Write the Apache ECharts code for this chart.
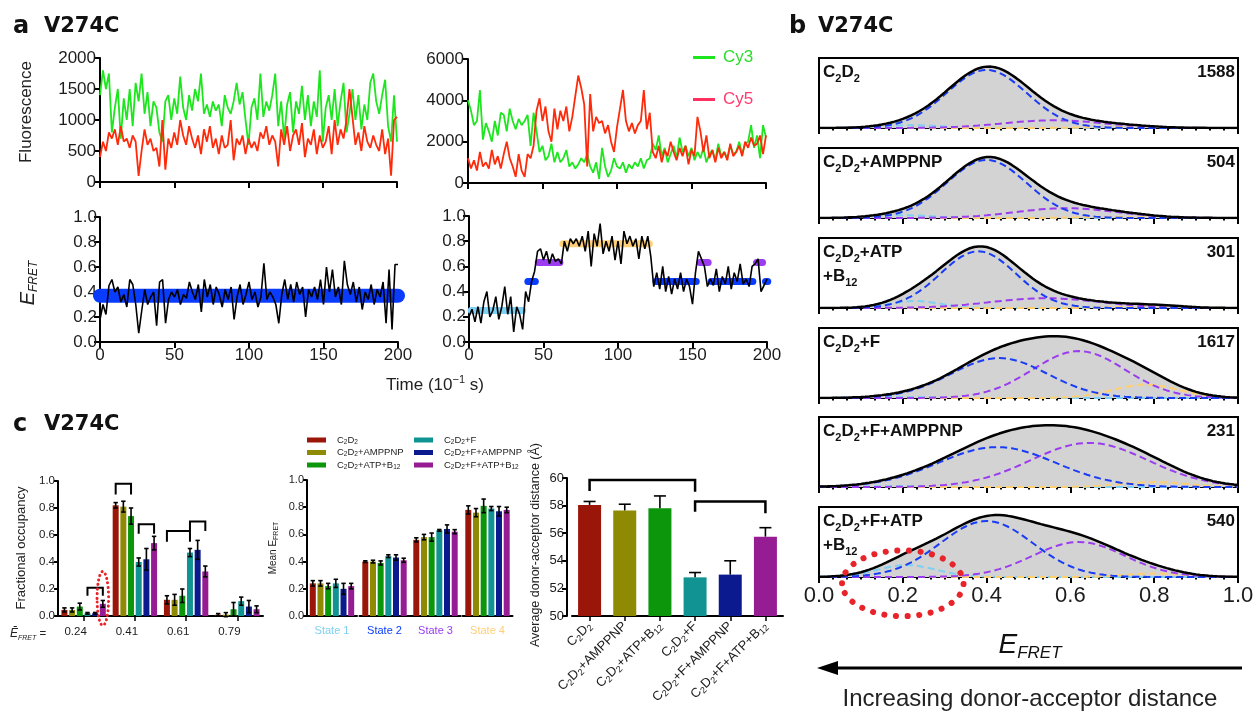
<!DOCTYPE html>
<html>
<head>
<meta charset="utf-8">
<title>V274C smFRET</title>
<script src="https://cdn.jsdelivr.net/npm/echarts@6.0.0/dist/echarts.min.js"></script>
<style>
html,body{margin:0;padding:0;background:#fff;}
#chart{width:1255px;height:711px;}
</style>
</head>
<body>
<div id="chart"></div>
<script>
// ===================== DATA =====================
// Panel a: time traces, one sample every 2 frames (10^-1 s), t = 0..200
const timeStep = 2;
const timeTicks = [0, 50, 100, 150, 200];

const cy3Left = [
 1400,1800,1500,1750,800,1200,1500,700,1350,1000,
 1500,900,1600,1300,1750,1100,1450,900,1300,1200,
 800,650,1300,1400,1000,1350,1100,1700,1200,1000,
 1400,1150,1500,1300,1750,1100,1250,1050,1300,1150,
 1250,900,1400,1200,1100,1300,1600,1250,1450,1000,
 600,1200,1350,1000,1750,1050,1300,1150,1400,1750,
 900,1300,700,1250,1450,800,1300,1100,1550,1000,
 1400,900,1300,1050,1800,650,1200,1400,1000,1500,
 900,1300,1600,800,1100,1500,1000,1400,850,1250,
 1000,1600,1750,1300,1100,1400,1650,900,650,1400,
 650];
const cy5Left = [
 400,650,500,800,700,850,600,900,650,700,
 550,750,650,100,500,850,600,700,500,550,
 250,1000,200,700,550,800,600,1000,750,600,
 900,700,550,750,450,850,650,900,550,700,
 450,750,550,600,1000,350,700,600,750,450,
 700,550,650,500,800,700,900,600,750,650,
 250,850,600,900,500,750,850,600,950,400,
 700,600,850,450,750,550,650,900,450,1000,
 600,850,700,1000,1500,1050,600,800,500,900,
 650,550,750,600,500,850,450,700,100,1000,
 1050];
const fretLeft = [
 0.18,0.30,0.22,0.45,0.50,0.40,0.44,0.32,0.38,0.28,
 0.50,0.46,0.30,0.07,0.25,0.42,0.30,0.36,0.40,0.13,
 0.48,0.50,0.15,0.34,0.40,0.36,0.42,0.30,0.38,0.35,
 0.48,0.40,0.34,0.46,0.24,0.50,0.36,0.46,0.30,0.44,
 0.38,0.28,0.42,0.34,0.44,0.18,0.36,0.46,0.30,0.38,
 0.48,0.34,0.40,0.28,0.36,0.63,0.34,0.40,0.36,0.30,
 0.15,0.38,0.50,0.34,0.46,0.32,0.48,0.38,0.44,0.20,
 0.42,0.36,0.44,0.34,0.50,0.30,0.60,0.40,0.58,0.36,
 0.44,0.30,0.65,0.46,0.38,0.48,0.32,0.44,0.26,0.40,
 0.34,0.46,0.30,0.42,0.36,0.48,0.15,0.58,0.10,0.62,
 0.62];
const cy3Right = [
 4000,3500,2800,3000,4500,2100,2900,2500,2000,3000,
 2300,3400,3300,2500,3600,3000,2600,3100,2800,3000,
 3300,1800,3400,2500,1500,1800,1100,1300,1900,1000,
 1500,1000,1200,1600,800,1000,700,900,1200,1000,
 1400,800,500,1000,200,1700,800,300,600,1200,
 800,700,1000,500,900,700,1000,800,1200,700,
 1100,1200,1900,1600,2300,1300,1700,1000,1400,1800,
 1200,2200,1500,1800,1300,1700,1100,1500,1200,1700,
 1000,1400,1600,1100,1900,1300,1500,1200,1800,1400,
 1500,2000,1400,1900,2000,2800,1700,2300,1200,2800,
 2200];
const cy5Right = [
 1200,700,1100,600,1500,800,1000,700,1600,900,
 1300,700,1400,2000,1200,800,300,1400,600,300,
 1400,1200,1800,3500,4100,3000,3700,2500,2000,3600,
 2600,3500,3000,3700,2500,3200,4200,5200,4600,3800,
 800,4300,2500,3200,2900,3000,2400,2800,2000,1500,
 2700,3600,4500,3000,2500,2900,2400,2800,3000,4500,
 2600,3400,1500,1200,1800,1000,1600,1300,2000,1500,
 1100,1700,1300,1800,900,1600,1300,3200,2500,1500,
 2300,1200,1600,1000,1700,1200,1500,1100,1900,1300,
 1500,1800,1300,2000,1700,2200,1800,1900,2300,1400,
 2300];
const fretRight = [
 0.20,0.26,0.16,0.28,0.15,0.32,0.40,0.20,0.25,0.36,
 0.18,0.28,0.44,0.22,0.36,0.08,0.28,0.22,0.10,0.40,
 0.32,0.48,0.56,0.72,0.74,0.65,0.72,0.62,0.70,0.64,
 0.66,0.62,0.80,0.72,0.82,0.78,0.82,0.76,0.84,0.72,
 0.88,0.60,0.86,0.76,0.94,0.70,0.80,0.72,0.84,0.65,
 0.80,0.62,0.88,0.78,0.84,0.76,0.82,0.66,0.84,0.74,
 0.84,0.68,0.44,0.55,0.42,0.60,0.40,0.52,0.38,0.50,
 0.42,0.55,0.40,0.50,0.44,0.30,0.55,0.72,0.66,0.60,
 0.44,0.50,0.45,0.58,0.40,0.52,0.46,0.60,0.42,0.55,
 0.48,0.62,0.46,0.50,0.44,0.60,0.62,0.66,0.40,0.45,
 0.50];
// HMM state fits: [tStart, tEnd, E_FRET, state number]
const fitLeft = [[0, 200, 0.37, 2]];
const fitRight = [
 [1.5,36,0.25,1],[39.5,44.5,0.48,2],[46.5,61,0.63,3],[63,121,0.78,4],
 [123.5,123.5,0.63,3],[125.5,152.5,0.48,2],[155,160.5,0.63,3],
 [162.5,190.5,0.48,2],[193,197,0.63,3],[199,200.5,0.48,2]];

// Panel b: E_FRET histograms, Gaussian fit components [mean, sd, amplitude (fraction of panel)]
const histLabelLines = [['C2D2'],['C2D2+AMPPNP'],['C2D2+ATP','+B12'],['C2D2+F'],['C2D2+F+AMPPNP'],['C2D2+F+ATP','+B12']];
const histCounts = [1588, 504, 301, 1617, 231, 540];
const fitState1 = [[0.22,0.07,0.04],[0.20,0.07,0.04],[0.23,0.06,0.10],[0.20,0.07,0.015],[0.20,0.07,0.015],[0.21,0.07,0.17]];
const fitState2 = [[0.40,0.095,0.83],[0.40,0.095,0.83],[0.38,0.09,0.81],[0.43,0.115,0.57],[0.425,0.14,0.57],[0.40,0.11,0.80]];
const fitState3 = [[0.56,0.12,0.11],[0.59,0.12,0.14],[0.54,0.13,0.14],[0.62,0.11,0.67],[0.645,0.14,0.63],[0.62,0.11,0.50]];
const fitState4 = [[0.72,0.08,0.015],[0.70,0.08,0.015],[0.80,0.07,0.03],[0.78,0.08,0.19],[0.80,0.08,0.07],[0.80,0.07,0.05]];
const eTicks = [0.0, 0.2, 0.4, 0.6, 0.8, 1.0];
// highlighted region in last histogram: [E centre, y centre, E half-width, y half-height]
const histHighlight = [[0.20, -0.09, 0.145, 0.47]];

// Panel c
const conditions = ['C2D2','C2D2+AMPPNP','C2D2+ATP+B12','C2D2+F','C2D2+F+AMPPNP','C2D2+F+ATP+B12'];
const occLabels = ['0.24','0.41','0.61','0.79'];
const occValues = [
 [0.045,0.82,0.12,0.01],
 [0.045,0.81,0.12,0.01],
 [0.07,0.74,0.15,0.05],
 [0.02,0.40,0.47,0.11],
 [0.02,0.42,0.49,0.07],
 [0.09,0.54,0.33,0.05]];
const occErr = [
 [0.015,0.02,0.03,0.008],
 [0.015,0.04,0.04,0.015],
 [0.025,0.06,0.05,0.05],
 [0.006,0.03,0.03,0.03],
 [0.006,0.08,0.07,0.045],
 [0.025,0.05,0.04,0.025]];
// brackets: [group, first bar, last bar, top y, leg end y]
const occBrackets = [[0,3,5,0.21,0.15],[1,0,2,0.98,0.90],[1,3,5,0.68,0.61],[2,0,3,0.63,0.55],[2,3,5,0.70,0.63]];
// highlighted bar: [group, bar, y low, y high]
const occHighlight = [[0,5,-0.07,0.33]];
const stateLabels = ['State 1','State 2','State 3','State 4'];
const meanE = [
 [0.24,0.40,0.56,0.78],
 [0.24,0.40,0.58,0.76],
 [0.22,0.39,0.58,0.81],
 [0.24,0.44,0.63,0.79],
 [0.20,0.43,0.64,0.77],
 [0.22,0.41,0.62,0.78]];
const meanErr = [
 [0.02,0.006,0.015,0.03],
 [0.02,0.01,0.02,0.03],
 [0.02,0.015,0.03,0.05],
 [0.03,0.01,0.006,0.015],
 [0.04,0.02,0.03,0.035],
 [0.02,0.015,0.015,0.02]];
const distValues = [58.05, 57.65, 57.8, 52.8, 53.0, 55.75];
const distErr = [0.25, 0.45, 0.9, 0.35, 1.0, 0.65];
// brackets: [bar a, bar b, top y, leg end y at a, leg end y at b]
const distBrackets = [[0,3,59.85,59.05,59.0],[3,5,58.3,57.55,57.45]];

// ===================== STYLE =====================
const FONT = '"Liberation Sans", Arial, sans-serif';
const HFONT = '"DejaVu Sans", Verdana, sans-serif';
const INK = '#1c1c1c';
const CY3 = '#1ee61e', CY5 = '#ff2a0a';
const condColors = ['#9a1608','#8e8a04','#0b960b','#119393','#0b1a8e','#961c94'];
const stateColors = ['#7fd0f2','#0a3cff','#9b3cf0','#ffd079'];
const compColors = ['#7fd0f2','#1a3cf5','#9a3cf0','#ffcf70'];
const BW = 6, GAP = 0.28;           // bar width / gap ratio in panel c
const PITCH = BW * (1 + GAP);

function richName(name){ return '{n|' + name.replace(/(\d+)/g, '}{s|$1}{n|') + '}'; }
function subRichAxis(size, sub, extra){
  extra = extra || {};
  return {
    n: Object.assign({fontSize:size, lineHeight:Math.round(size*1.2), verticalAlign:'middle'}, extra),
    s: Object.assign({fontSize:sub, lineHeight:sub, verticalAlign:'bottom'}, extra)
  };
}
const plain = v => String(v);

const grids = [], xAxes = [], yAxes = [], series = [], graphics = [];
function addGrid(l, t, w, h, extra){
  grids.push(Object.assign({left:l, top:t, width:w, height:h, outerBoundsMode:'none', containLabel:false}, extra || {}));
  return grids.length - 1;
}
function lineAx(){ return {show:true, onZero:false, lineStyle:{color:'#000', width:2}}; }
function tickAx(len){ return {show:true, length:len || 6, lineStyle:{color:'#000', width:2}}; }

// ===================== PANEL a =====================
const gA1 = addGrid(100, 58, 297, 124);
const gA2 = addGrid(468, 59, 298, 124);
const gA3 = addGrid(100, 217, 298, 125);
const gA4 = addGrid(469, 216, 298, 126);
[gA1, gA2, gA3, gA4].forEach((g, i) => {
  const bottom = i >= 2;
  xAxes.push({type:'value', gridIndex:g, min:timeTicks[0], max:timeTicks[timeTicks.length-1], interval:50,
    axisLine:lineAx(), axisTick:tickAx(6), splitLine:{show:false},
    axisLabel:{show:bottom, color:INK, fontFamily:FONT, fontSize:17, margin:5, showMinLabel:true, showMaxLabel:true, formatter:plain}});
});
yAxes.push({type:'value', gridIndex:gA1, min:0, max:2000, interval:500, axisLine:lineAx(), axisTick:tickAx(6), splitLine:{show:false},
  axisLabel:{color:INK, fontFamily:FONT, fontSize:17, margin:4, formatter:plain}});
yAxes.push({type:'value', gridIndex:gA2, min:0, max:6000, interval:2000, axisLine:lineAx(), axisTick:tickAx(6), splitLine:{show:false},
  axisLabel:{color:INK, fontFamily:FONT, fontSize:17, margin:4, formatter:plain}});
[gA3, gA4].forEach(g => yAxes.push({type:'value', gridIndex:g, min:0, max:1, interval:0.2, axisLine:lineAx(), axisTick:tickAx(6), splitLine:{show:false},
  axisLabel:{color:INK, fontFamily:FONT, fontSize:17, margin:3, formatter:v => v.toFixed(1)}}));

function pairs(arr){ return arr.map((v, i) => [i * timeStep, v]); }
function traceSeries(name, g, arr, color, w, z){
  return {type:'line', name:name, xAxisIndex:g, yAxisIndex:g, data:pairs(arr), symbol:'none', showSymbol:false,
    lineStyle:{color:color, width:w}, itemStyle:{color:color}, z:z, silent:true};
}
series.push(traceSeries('Cy3', gA1, cy3Left, CY3, 1.8, 2));
series.push(traceSeries('Cy5', gA1, cy5Left, CY5, 1.8, 3));
series.push(traceSeries('Cy3', gA2, cy3Right, CY3, 1.8, 2));
series.push(traceSeries('Cy5', gA2, cy5Right, CY5, 1.8, 3));
function fitRender(width){
  return function(params, api){
    const p1 = api.coord([api.value(0), api.value(2)]);
    const p2 = api.coord([api.value(1), api.value(2)]);
    return {type:'line', shape:{x1:p1[0], y1:p1[1], x2:p2[0], y2:p2[1]},
      style:{stroke:stateColors[api.value(3) - 1], lineWidth:width, lineCap:'round'}};
  };
}
series.push({type:'custom', xAxisIndex:gA3, yAxisIndex:gA3, data:fitLeft, renderItem:fitRender(14), z:1, silent:true, clip:false});
series.push({type:'custom', xAxisIndex:gA4, yAxisIndex:gA4, data:fitRight, renderItem:fitRender(7), z:1, silent:true, clip:false});
series.push(traceSeries('FRET-L', gA3, fretLeft, '#000', 1.6, 3));
series.push(traceSeries('FRET-R', gA4, fretRight, '#000', 1.6, 3));

// ===================== PANEL b =====================
const bTops = [58, 148, 238, 328, 417, 507];
const eSamples = Array.from({length:101}, (_, i) => i / 100);
function gauss(p, x){ return p[2] * Math.exp(-((x - p[0]) * (x - p[0])) / (2 * p[1] * p[1])); }
const gB = [];
bTops.forEach((top, k) => {
  const g = addGrid(819, top, 419, 70, {show:true, borderColor:'#000', borderWidth:2, backgroundColor:'rgba(0,0,0,0)'});
  gB.push(g);
  const last = k === bTops.length - 1;
  xAxes.push({type:'value', gridIndex:g, min:0, max:1, interval:0.2, axisLine:lineAx(), axisTick:tickAx(6),
    minorTick:{show:true, splitNumber:6, length:2.5, lineStyle:{color:'#000', width:2}}, splitLine:{show:false},
    axisLabel:{show:last, color:INK, fontFamily:FONT, fontSize:22, margin:8, formatter:v => v.toFixed(1), showMinLabel:true, showMaxLabel:true}});
  yAxes.push({type:'value', gridIndex:g, min:0, max:1, show:false});
  const comps = [fitState1[k], fitState2[k], fitState3[k], fitState4[k]];
  const total = eSamples.map(x => [x, comps.reduce((s, p) => s + gauss(p, x), 0)]);
  series.push({type:'line', xAxisIndex:g, yAxisIndex:g, data:total, symbol:'none', lineStyle:{width:0, color:'#d3d3d3'},
    areaStyle:{color:'#d3d3d3', opacity:1}, z:1, silent:true});
  [0, 3, 2, 1].forEach(ci => {
    series.push({type:'line', xAxisIndex:g, yAxisIndex:g, data:eSamples.map(x => [x, gauss(comps[ci], x)]), symbol:'none',
      lineStyle:{color:compColors[ci], width:2, type:[7, 4]}, z:2 + (ci === 1 ? 1 : 0), silent:true});
  });
  series.push({type:'line', xAxisIndex:g, yAxisIndex:g, data:total, symbol:'none', lineStyle:{color:'#000', width:2.5}, z:4, silent:true});
});
const gBlast = gB[gB.length - 1];
series.push({type:'custom', xAxisIndex:gBlast, yAxisIndex:gBlast, data:histHighlight, clip:false, z:6, silent:true,
  renderItem:function(params, api){
    const c = api.coord([api.value(0), api.value(1)]);
    const s = api.size([api.value(2), api.value(3)]);
    return {type:'ellipse', shape:{cx:c[0], cy:c[1], rx:s[0], ry:s[1]},
      style:{fill:null, stroke:'#e8232a', lineWidth:6, lineDash:[0.1, 11.5], lineCap:'round'}};
  }});

// ===================== PANEL c =====================
// left: fractional occupancy
const gCL = addGrid(58, 481, 205, 135);
xAxes.push({type:'category', gridIndex:gCL, data:occLabels, axisLine:lineAx(), axisTick:{show:true, alignWithLabel:true, length:5, lineStyle:{color:'#000', width:1.5}},
  axisLabel:{color:INK, fontFamily:FONT, fontSize:11.5, margin:10, padding:[0,16,0,0]}});
yAxes.push({type:'value', gridIndex:gCL, min:0, max:1, interval:0.2, axisLine:lineAx(), axisTick:tickAx(4), splitLine:{show:false},
  axisLabel:{color:INK, fontFamily:FONT, fontSize:11.5, margin:3, formatter:v => v.toFixed(1)}});
conditions.forEach((c, j) => {
  series.push({type:'bar', name:c, xAxisIndex:gCL, yAxisIndex:gCL, data:occValues[j], barWidth:BW, barGap:(GAP*100)+'%',
    itemStyle:{color:condColors[j]}, z:2, silent:true});
});
function errRender(nBars, upOnly, cap){
  return function(params, api){
    const cat = api.value(0), bi = api.value(1), v = api.value(2), e = api.value(3);
    const off = (bi - (nBars - 1) / 2) * PITCH;
    const top = api.coord([cat, v + e]);
    const bot = api.coord([cat, upOnly ? v : v - e]);
    const x = top[0] + (nBars > 1 ? off : 0);
    const st = {stroke:'#000', lineWidth:1.6};
    const kids = [
      {type:'line', shape:{x1:x, y1:top[1], x2:x, y2:bot[1]}, style:st},
      {type:'line', shape:{x1:x - cap, y1:top[1], x2:x + cap, y2:top[1]}, style:st}
    ];
    if (!upOnly) kids.push({type:'line', shape:{x1:x - cap, y1:bot[1], x2:x + cap, y2:bot[1]}, style:st});
    return {type:'group', children:kids};
  };
}
const occErrData = [];
conditions.forEach((c, j) => occLabels.forEach((l, s) => occErrData.push([s, j, occValues[j][s], occErr[j][s]])));
series.push({type:'custom', xAxisIndex:gCL, yAxisIndex:gCL, data:occErrData, renderItem:errRender(6, false, 2.2), z:5, silent:true, clip:false});
series.push({type:'custom', xAxisIndex:gCL, yAxisIndex:gCL, data:occBrackets, z:5, silent:true, clip:false,
  renderItem:function(params, api){
    const cat = api.value(0);
    const t = api.coord([cat, api.value(3)]), l = api.coord([cat, api.value(4)]);
    const x1 = t[0] + (api.value(1) - 2.5) * PITCH, x2 = t[0] + (api.value(2) - 2.5) * PITCH;
    return {type:'polyline', shape:{points:[[x1, l[1]], [x1, t[1]], [x2, t[1]], [x2, l[1]]]}, style:{stroke:'#000', lineWidth:2, fill:null}};
  }});
series.push({type:'custom', xAxisIndex:gCL, yAxisIndex:gCL, data:occHighlight, z:6, silent:true, clip:false,
  renderItem:function(params, api){
    const lo = api.coord([api.value(0), api.value(2)]), hi = api.coord([api.value(0), api.value(3)]);
    const cx = lo[0] + (api.value(1) - 2.5) * PITCH;
    return {type:'ellipse', shape:{cx:cx, cy:(lo[1] + hi[1]) / 2, rx:PITCH * 0.75, ry:Math.abs(lo[1] - hi[1]) / 2},
      style:{fill:null, stroke:'#e8232a', lineWidth:3, lineDash:[0.1, 4.5], lineCap:'round'}};
  }});

// middle: mean E_FRET per state (broken axis: one grid per state)
const cmLefts = [307, 359.5, 410.5, 462.5];
stateLabels.forEach((lab, s) => {
  const g = addGrid(cmLefts[s], 480, 50, 136);
  xAxes.push({type:'category', gridIndex:g, data:[lab], axisLine:lineAx(), axisTick:{show:false},
    axisLabel:{color:stateColors[s], fontFamily:FONT, fontSize:11, margin:9}});
  yAxes.push({type:'value', gridIndex:g, min:0, max:1, interval:0.2, show:s === 0, axisLine:lineAx(), axisTick:tickAx(4), splitLine:{show:false},
    axisLabel:{color:INK, fontFamily:FONT, fontSize:11, margin:3, formatter:v => v.toFixed(1)}});
  conditions.forEach((c, j) => {
    series.push({type:'bar', name:c, xAxisIndex:g, yAxisIndex:g, data:[meanE[j][s]], barWidth:BW, barGap:(GAP*100)+'%',
      itemStyle:{color:condColors[j]}, z:2, silent:true});
  });
  series.push({type:'custom', xAxisIndex:g, yAxisIndex:g, data:conditions.map((c, j) => [0, j, meanE[j][s], meanErr[j][s]]),
    renderItem:errRender(6, false, 2.2), z:5, silent:true, clip:false});
});

// right: average donor-acceptor distance
const gCR = addGrid(572, 478, 211, 138);
xAxes.push({type:'category', gridIndex:gCR, data:conditions, axisLine:lineAx(), axisTick:{show:true, alignWithLabel:true, length:5, lineStyle:{color:'#000', width:1.5}},
  axisLabel:{interval:0, rotate:45, margin:8, color:INK, fontFamily:FONT, formatter:richName, rich:subRichAxis(13, 9, {color:INK, fontFamily:FONT})}});
yAxes.push({type:'value', gridIndex:gCR, min:50, max:60, interval:2, offset:5, axisLine:lineAx(), axisTick:tickAx(5), splitLine:{show:false},
  axisLabel:{color:INK, fontFamily:FONT, fontSize:13, margin:3}});
series.push({type:'bar', name:'distance', xAxisIndex:gCR, yAxisIndex:gCR, barWidth:23,
  data:distValues.map((v, j) => ({value:v, itemStyle:{color:condColors[j]}})), z:2, silent:true});
series.push({type:'custom', xAxisIndex:gCR, yAxisIndex:gCR, data:distValues.map((v, j) => [j, 0, v, distErr[j]]),
  renderItem:errRender(1, true, 6), z:5, silent:true, clip:false});
series.push({type:'custom', xAxisIndex:gCR, yAxisIndex:gCR, data:distBrackets, z:5, silent:true, clip:false,
  renderItem:function(params, api){
    const a = api.coord([api.value(0), api.value(2)]), b = api.coord([api.value(1), api.value(2)]);
    const la = api.coord([api.value(0), api.value(3)]), lb = api.coord([api.value(1), api.value(4)]);
    return {type:'polyline', shape:{points:[[a[0], la[1]], [a[0], a[1]], [b[0], b[1]], [b[0], lb[1]]]}, style:{stroke:'#000', lineWidth:2.5, fill:null}};
  }});

// ===================== LEGENDS =====================
const legRich = subRichAxis(9.5, 6.5, {color:'#222', fontFamily:FONT});
legRich.n.lineHeight = 11;
const legends = [
  {data:[{name:'Cy3', textStyle:{color:'#2bdc2b'}, itemStyle:{color:CY3}}, {name:'Cy5', textStyle:{color:'#ff3a6e'}, itemStyle:{color:'#ff3060'}}],
   orient:'vertical', left:688, top:44, itemWidth:22, itemHeight:3, itemGap:25, icon:'rect', selectedMode:false,
   textStyle:{fontSize:17, fontFamily:FONT, padding:[0,0,0,3]}},
  {data:conditions.slice(0, 3), orient:'vertical', left:302, top:430, itemWidth:19, itemHeight:5, itemGap:2, icon:'rect', selectedMode:false,
   formatter:richName, textStyle:{fontSize:9.5, fontFamily:FONT, color:'#222', rich:legRich, padding:[0,0,0,6]}},
  {data:conditions.slice(3), orient:'vertical', left:409, top:430, itemWidth:19, itemHeight:5, itemGap:2, icon:'rect', selectedMode:false,
   formatter:richName, textStyle:{fontSize:9.5, fontFamily:FONT, color:'#222', rich:legRich, padding:[0,0,0,6]}}
];

// ===================== TEXT / ANNOTATIONS =====================
function txt(x, y, text, font, extra){
  return Object.assign({type:'text', x:x, y:y, silent:true, style:Object.assign({text:text, font:font, fill:'#111', align:'left', verticalAlign:'middle'}, (extra || {}).style || {})},
    extra ? {rotation:extra.rotation || 0} : {});
}
// panel headers
graphics.push(txt(13, 27, 'a', 'bold 24px ' + HFONT));
graphics.push(txt(44, 27, 'V274C', 'bold 21px ' + HFONT));
graphics.push(txt(789, 27, 'b', 'bold 24px ' + HFONT));
graphics.push(txt(818, 27, 'V274C', 'bold 21px ' + HFONT));
graphics.push(txt(13, 425, 'c', 'bold 24px ' + HFONT));
graphics.push(txt(44, 425, 'V274C', 'bold 21px ' + HFONT));
// panel a axis titles
graphics.push(txt(26, 112, 'Fluorescence', '17px ' + FONT, {rotation:Math.PI/2, style:{align:'center', fill:'#222'}}));
graphics.push({type:'text', x:28, y:283, rotation:Math.PI/2, silent:true, style:{text:'{e|E}{s|FRET}', align:'center', verticalAlign:'middle',
  rich:{e:{fontSize:20, fontStyle:'italic', fontFamily:FONT, fill:'#222', lineHeight:24, verticalAlign:'middle'},
        s:{fontSize:12, fontStyle:'italic', fontFamily:FONT, fill:'#222', lineHeight:12, verticalAlign:'bottom'}}}});
graphics.push({type:'text', x:435, y:385, silent:true, style:{text:'{n|Time (10}{u|−1}{n| s)}', align:'center', verticalAlign:'middle',
  rich:{n:{fontSize:17, fontFamily:FONT, fill:'#222', lineHeight:22, verticalAlign:'middle'},
        u:{fontSize:11, fontFamily:FONT, fill:'#222', lineHeight:11, verticalAlign:'top'}}}});
// panel b box labels and counts
const boxRich = {n:{fontSize:17, fontWeight:'bold', fontFamily:FONT, fill:'#111', lineHeight:24, verticalAlign:'middle'},
                 s:{fontSize:11, fontWeight:'bold', fontFamily:FONT, fill:'#111', lineHeight:11, verticalAlign:'bottom'}};
bTops.forEach((top, k) => {
  graphics.push({type:'text', x:823, y:top + 2, silent:true, style:{text:histLabelLines[k].map(richName).join('\n'), rich:boxRich, align:'left', verticalAlign:'top'}});
  graphics.push({type:'text', x:1235, y:top + 14, silent:true, style:{text:String(histCounts[k]), font:'bold 17px ' + FONT, fill:'#111', align:'right', verticalAlign:'middle'}});
});
graphics.push({type:'text', x:1030, y:645, silent:true, style:{text:'{e|E}{s|FRET}', align:'center', verticalAlign:'middle',
  rich:{e:{fontSize:28, fontStyle:'italic', fontFamily:FONT, fill:'#111', lineHeight:34, verticalAlign:'middle'},
        s:{fontSize:17, fontStyle:'italic', fontFamily:FONT, fill:'#111', lineHeight:17, verticalAlign:'bottom'}}}});
graphics.push({type:'line', silent:true, shape:{x1:1242, y1:668, x2:832, y2:668}, style:{stroke:'#000', lineWidth:3}});
graphics.push({type:'polygon', silent:true, shape:{points:[[817,668],[838,661],[838,675]]}, style:{fill:'#000'}});
graphics.push(txt(1030, 699, 'Increasing donor-acceptor distance', '24px ' + FONT, {style:{align:'center', fill:'#222'}}));
// panel c axis titles
graphics.push(txt(21, 548, 'Fractional occupancy', '13px ' + FONT, {rotation:Math.PI/2, style:{align:'center', fill:'#222'}}));
graphics.push({type:'text', x:10, y:634, silent:true, style:{text:'{e|Ē}{s|FRET}{n| =}', align:'left', verticalAlign:'middle',
  rich:{e:{fontSize:12, fontStyle:'italic', fontFamily:FONT, fill:'#222', lineHeight:15, verticalAlign:'middle'},
        n:{fontSize:11.5, fontFamily:FONT, fill:'#222', lineHeight:15, verticalAlign:'middle'},
        s:{fontSize:7, fontStyle:'italic', fontFamily:FONT, fill:'#222', lineHeight:7, verticalAlign:'bottom'}}}});
graphics.push({type:'text', x:273, y:548, rotation:Math.PI/2, silent:true, style:{text:'{n|Mean E}{s|FRET}', align:'center', verticalAlign:'middle',
  rich:{n:{fontSize:10, fontFamily:FONT, fill:'#222', lineHeight:13, verticalAlign:'middle'},
        s:{fontSize:7, fontFamily:FONT, fill:'#222', lineHeight:7, verticalAlign:'bottom'}}}});
graphics.push(txt(536, 545, 'Average donor-acceptor distance (Å)', '12.5px ' + FONT, {rotation:Math.PI/2, style:{align:'center', fill:'#222'}}));

// ===================== RENDER =====================
const chart = echarts.init(document.getElementById('chart'), null, {renderer:'canvas'});
chart.setOption({
  animation:false,
  backgroundColor:'#ffffff',
  textStyle:{fontFamily:FONT},
  grid:grids, xAxis:xAxes, yAxis:yAxes, legend:legends, series:series, graphic:graphics
});
</script>
</body>
</html>
